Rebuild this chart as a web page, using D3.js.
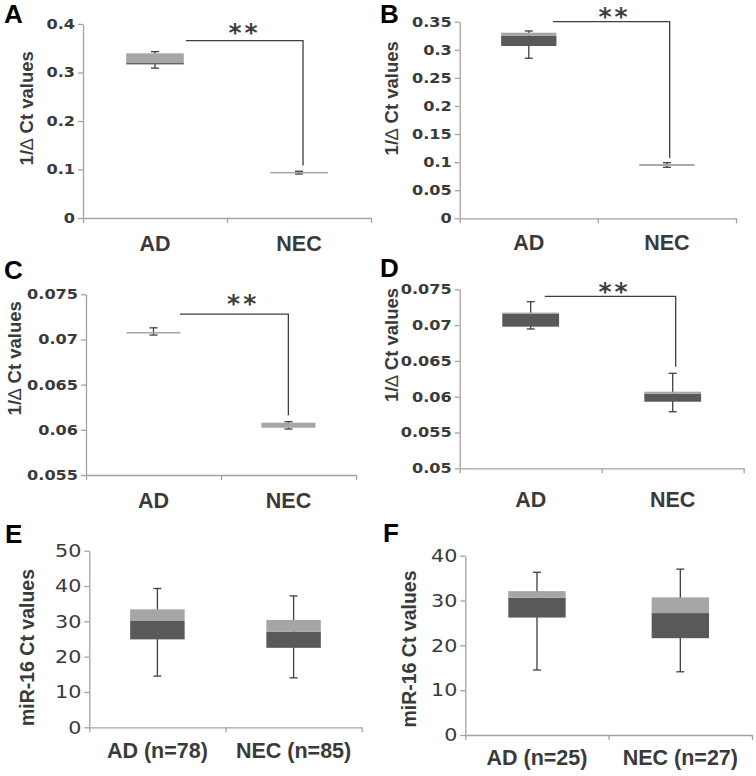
<!DOCTYPE html>
<html>
<head>
<meta charset="utf-8">
<script src="https://cdn.jsdelivr.net/npm/d3@7"></script>
<style>
  html, body { margin: 0; padding: 0; background: #fff; }
  svg { display: block; }
</style>
</head>
<body>
<div id="chart"></div>
<script>
// ---------- DATA ----------
const groupsTop = ["AD", "NEC"];
const groupsE = ["AD (n=78)", "NEC (n=85)"];
const groupsF = ["AD (n=25)", "NEC (n=27)"];

// box statistics per group: [whisker min, Q1, median, Q3, whisker max]
const boxA = [[0.309, 0.3167, 0.3195, 0.3396, 0.343], [0.0907, 0.0919, 0.0919, 0.0950, 0.0963]];
const boxB = [[0.285, 0.3067, 0.3251, 0.3304, 0.3335], [0.0908, 0.0932, 0.0932, 0.0966, 0.0990]];
const boxC = [[0.07049, 0.07066, 0.07066, 0.07083, 0.07129], [0.06009, 0.06023, 0.06023, 0.06079, 0.0609]];
const boxD = [[0.06946, 0.06978, 0.07155, 0.07175, 0.07327], [0.0579, 0.0593, 0.0604, 0.0607, 0.06327]];
const boxE = [[14.5, 24.9, 30.1, 33.4, 39.3], [14.0, 22.5, 27.1, 30.4, 37.2]];
const boxF = [[14.5, 26.2, 30.6, 32.1, 36.3], [14.1, 21.6, 27.2, 30.7, 37.0]];

// y-axis ticks and their labels
const ticksA = [0, 0.1, 0.2, 0.3, 0.4];
const tickLabelsA = ["0", "0.1", "0.2", "0.3", "0.4"];
const ticksB = [0, 0.05, 0.1, 0.15, 0.2, 0.25, 0.3, 0.35];
const tickLabelsB = ["0", "0.05", "0.1", "0.15", "0.2", "0.25", "0.3", "0.35"];
const ticksC = [0.055, 0.06, 0.065, 0.07, 0.075];
const tickLabelsC = ["0.055", "0.06", "0.065", "0.07", "0.075"];
const ticksD = [0.05, 0.055, 0.06, 0.065, 0.07, 0.075];
const tickLabelsD = ["0.05", "0.055", "0.06", "0.065", "0.07", "0.075"];
const ticksE = [0, 10, 20, 30, 40, 50];
const tickLabelsE = ["0", "10", "20", "30", "40", "50"];
const ticksF = [0, 10, 20, 30, 40];
const tickLabelsF = ["0", "10", "20", "30", "40"];

// significance brackets: [bracket level, drop-to level]
const sigA = [0.3656, 0.108];
const sigB = [0.35, 0.107];
const sigC = [0.0728, 0.0616];
const sigD = [0.074, 0.0642];
const sigLabel = "**";

const titleDelta = ["1/", "\u2206", " Ct values"];
const titleMir = "miR-16 Ct values";

// ---------- LAYOUT / STYLE ----------
const DARK = "#595959", LIGHT = "#a6a6a6", AXIS = "#a3a3a3", TEXT = "#3a3a3a", INK = "#3f3f3f";

const panels = [
  { id: "A", letter: [4, 22.7], x: [83, 371], y: [218, 24], titleX: 33, titleY: 108.3, labelDy: 32.7,
    groups: groupsTop, box: boxA, ticks: ticksA, tickLabels: tickLabelsA, sig: sigA, sigFrom: 0.715, sigTo: 1.528, starX: 1.111, starUp: 14, small: false },
  { id: "B", letter: [380, 22.5], x: [459.7, 736], y: [218.3, 21.7], titleX: 398, titleY: 98.3, labelDy: 31.7,
    groups: groupsTop, box: boxB, ticks: ticksB, tickLabels: tickLabelsB, sig: sigB, sigFrom: 0.675, sigTo: 1.52, starX: 1.11, starUp: 10.5, small: false },
  { id: "C", letter: [4, 279], x: [86, 356], y: [475, 294.3], titleX: 21, titleY: 358.3, labelDy: 33.3,
    groups: groupsTop, box: boxC, ticks: ticksC, tickLabels: tickLabelsC, sig: sigC, sigFrom: 0.696, sigTo: 1.499, starX: 1.153, starUp: 16, small: false },
  { id: "D", letter: [380, 276.7], x: [459.7, 743.7], y: [468.3, 289.3], titleX: 398, titleY: 345, labelDy: 38.4,
    groups: groupsTop, box: boxD, ticks: ticksD, tickLabels: tickLabelsD, sig: sigD, sigFrom: 0.599, sigTo: 1.521, starX: 1.08, starUp: 10.5, small: false },
  { id: "E", letter: [5, 542.7], x: [89.3, 361.7], y: [727.3, 550.7], titleX: 33.5, titleY: 647.5, labelDy: 31,
    groups: groupsE, box: boxE, ticks: ticksE, tickLabels: tickLabelsE, sig: null, small: true },
  { id: "F", letter: [383, 541.7], x: [465.3, 752], y: [735, 555.7], titleX: 416, titleY: 649, labelDy: 30,
    groups: groupsF, box: boxF, ticks: ticksF, tickLabels: tickLabelsF, sig: null, small: true }
];

const svg = d3.select("#chart").append("svg")
  .attr("width", 756).attr("height", 776)
  .attr("viewBox", "0 0 756 776");

panels.forEach(p => {
  const g = svg.append("g");
  const dom = [p.ticks[0], p.ticks[p.ticks.length - 1]];
  const y = d3.scaleLinear().domain(dom).range(p.y);
  const xb = d3.scaleBand().domain(p.groups).range(p.x).paddingInner(0.6).paddingOuter(0.3);
  const xl = d3.scaleLinear().domain([0, 2]).range(p.x);

  // panel letter
  g.append("text").attr("x", p.letter[0]).attr("y", p.letter[1])
    .attr("font-family", "Liberation Sans, Arial, sans-serif").attr("font-weight", "bold")
    .attr("font-size", 26).attr("fill", "#000").text(p.id);

  // y axis
  const ya = d3.axisLeft(y).tickValues(p.ticks).tickFormat((d, i) => p.tickLabels[i])
    .tickSize(5).tickSizeOuter(0).tickPadding(3);
  const yg = g.append("g").attr("transform", `translate(${p.x[0]},0)`).call(ya);
  yg.select(".domain").attr("stroke", AXIS).attr("stroke-width", 1.3);
  yg.selectAll(".tick line").attr("stroke", AXIS).attr("stroke-width", 1.3);
  const sx = 1.15;
  yg.selectAll(".tick text")
    .attr("fill", TEXT)
    .attr("font-family", "DejaVu Sans, sans-serif")
    .attr("font-weight", p.small ? "normal" : "bold")
    .attr("font-size", p.small ? 18 : 14)
    .attr("x", -8 / sx)
    .attr("transform", `scale(${sx},1)`);

  // x axis (ticks at category boundaries)
  const xa = d3.axisBottom(xl).tickValues([0, 1, 2]).tickFormat("").tickSize(5).tickSizeOuter(0);
  const xg = g.append("g").attr("transform", `translate(0,${p.y[0]})`).call(xa);
  xg.select(".domain").attr("stroke", AXIS).attr("stroke-width", 1.3);
  xg.selectAll(".tick line").attr("stroke", AXIS).attr("stroke-width", 1.3);

  // category labels
  g.selectAll(".cat").data(p.groups).enter().append("text")
    .attr("x", d => xb(d) + xb.bandwidth() / 2)
    .attr("y", p.y[0] + p.labelDy)
    .attr("text-anchor", "middle")
    .attr("font-family", "Liberation Sans, Arial, sans-serif").attr("font-weight", "bold")
    .attr("font-size", 21.5).attr("fill", TEXT).text(d => d);

  // y title
  const t = g.append("text")
    .attr("transform", `translate(${p.titleX},${p.titleY}) rotate(-90)`)
    .attr("text-anchor", "middle")
    .attr("font-family", "Liberation Sans, Arial, sans-serif").attr("font-weight", "bold")
    .attr("font-size", p.small ? 19.5 : 18.5).attr("fill", TEXT);
  if (p.small) {
    t.text(titleMir);
  } else {
    t.append("tspan").text(titleDelta[0]);
    t.append("tspan").attr("font-weight", "normal").text(titleDelta[1]);
    t.append("tspan").text(titleDelta[2]);
  }

  // whiskers (behind boxes)
  const capW = 8;
  p.box.forEach((s, i) => {
    const cx = xb(p.groups[i]) + xb.bandwidth() / 2;
    g.append("line").attr("x1", cx).attr("x2", cx).attr("y1", y(s[0])).attr("y2", y(s[4]))
      .attr("stroke", INK).attr("stroke-width", 1.3);
    [s[0], s[4]].forEach(v => {
      g.append("line").attr("x1", cx - capW / 2).attr("x2", cx + capW / 2).attr("y1", y(v)).attr("y2", y(v))
        .attr("stroke", INK).attr("stroke-width", 1.3);
    });
  });

  // boxes: dark Q1->median, light median->Q3
  p.box.forEach((s, i) => {
    const bx = xb(p.groups[i]), bw = xb.bandwidth();
    if (s[2] > s[1]) {
      g.append("rect").attr("x", bx).attr("width", bw)
        .attr("y", y(s[2])).attr("height", y(s[1]) - y(s[2])).attr("fill", DARK);
    }
    if (s[3] > s[2]) {
      g.append("rect").attr("x", bx).attr("width", bw)
        .attr("y", y(s[3])).attr("height", y(s[2]) - y(s[3])).attr("fill", LIGHT);
    }
  });

  // significance bracket
  if (p.sig) {
    const x1 = xl(p.sigFrom), x2 = xl(p.sigTo), yt = y(p.sig[0]), yb = y(p.sig[1]);
    g.append("path").attr("d", `M${x1},${yt}H${x2}V${yb}`)
      .attr("fill", "none").attr("stroke", INK).attr("stroke-width", 1.3);
    const fs = 25;
    g.append("text").attr("x", xl(p.starX) + 1.5).attr("y", yt - p.starUp + 0.56 * fs)
      .attr("text-anchor", "middle")
      .attr("font-family", "DejaVu Sans, sans-serif").attr("font-weight", "bold").attr("font-size", fs)
      .attr("letter-spacing", "3px").attr("fill", INK).text(sigLabel);
  }
});
</script>
</body>
</html>
